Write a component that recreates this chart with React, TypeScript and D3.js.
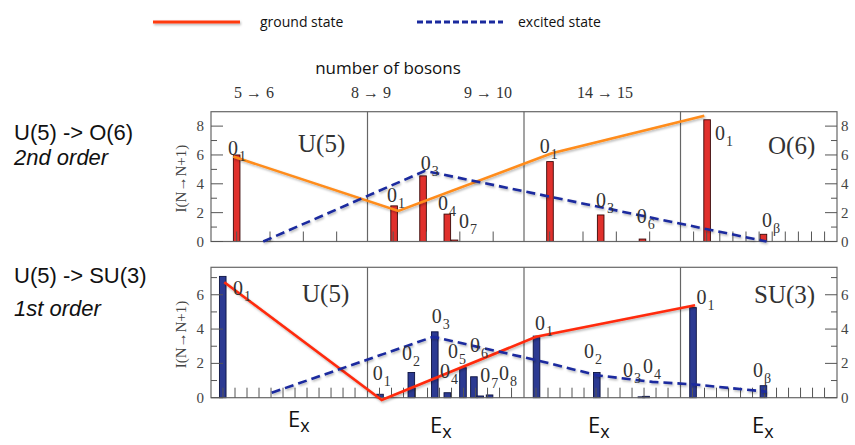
import { useEffect, useRef } from "react";
import * as d3 from "d3";

// x positions are in "panel units": panel i spans [i, i+1]
const topBarX = [0.164, 1.17, 1.355, 1.51, 1.556, 2.166, 2.49, 2.757, 3.17, 3.53];
const topBarY = [6.0, 2.47, 4.55, 1.9, 0.1, 5.54, 1.84, 0.17, 8.44, 0.5];
const topSub = ["1", "1", "3", "4", "7", "1", "3", "6", "1", "β"];
const topLabelX = [0.109, 1.125, 1.34, 1.45, 1.585, 2.1, 2.46, 2.72, 3.22, 3.52];
const topLabelY = [6.0, 2.76, 4.97, 2.19, 0.92, 6.12, 2.42, 1.28, 7.05, 1.03];
const topGroundX = [0.142, 1.197, 2.177, 3.152];
const topGroundY = [5.89, 2.12, 6.12, 8.72];
const topExcitedX = [0.334, 1.367, 3.55];
const topExcitedY = [0.0, 4.9, 0.0];

const botBarX = [0.075, 1.08, 1.28, 1.43, 1.51, 1.61, 1.68, 1.72, 1.78, 2.08, 2.465, 2.75, 2.78, 3.08, 3.53];
const botBarY = [7.07, 0.2, 1.47, 3.84, 0.29, 1.75, 1.22, 0.1, 0.16, 3.59, 1.47, 0.05, 0.08, 5.25, 0.7];
const botSub = ["1", "1", "2", "3", "4", "5", "6", "7", "8", "1", "2", "3", "4", "1", "β"];
const botLabelX = [0.14, 1.033, 1.22, 1.41, 1.463, 1.514, 1.655, 1.72, 1.84, 2.07, 2.383, 2.633, 2.76, 3.103, 3.463];
const botLabelY = [5.97, 1.03, 2.19, 4.36, 1.13, 2.29, 2.66, 0.93, 1.03, 3.94, 2.29, 1.22, 1.42, 5.49, 1.22];
const botGroundX = [0.085, 1.091, 2.077, 3.093];
const botGroundY = [6.73, -0.13, 3.55, 5.39];
const botExcitedX = [0.388, 1.42, 2.08, 2.465, 2.82, 3.08, 3.55];
const botExcitedY = [0.29, 3.55, 2.19, 1.31, 0.92, 0.78, 0.35];

const bosonLabels = ["5 → 6", "8 → 9", "9 → 10", "14 → 15"];
const bosonLabelX = [254, 371, 488, 605];

const SERIF = "'Liberation Serif', 'Times New Roman', serif";
const SANS = "'Liberation Sans', Arial, sans-serif";
const HAND = "'Open Sans', 'Noto Sans', sans-serif";

export default function App() {
  const svgRef = useRef<SVGSVGElement>(null);

  useEffect(() => {
    if (!svgRef.current) return;
    const svg = d3.select(svgRef.current);
    svg.selectAll("*").remove();

    const defs = svg.append("defs");
    defs.append("filter")
      .attr("id", "shadow")
      .attr("filterUnits", "userSpaceOnUse")
      .attr("x", 0).attr("y", 0).attr("width", 855).attr("height", 445)
      .append("feDropShadow")
      .attr("dx", 1).attr("dy", 1.5).attr("stdDeviation", 1)
      .attr("flood-color", "#000").attr("flood-opacity", 0.3);

    const x = d3.scaleLinear().domain([0, 4]).range([211, 837]);

    const panels = [
      {
        y: d3.scaleLinear().domain([0, 9]).range([241.5, 111.7]),
        major: [0, 2, 4, 6, 8], minor: [1, 3, 5, 7],
        barX: topBarX, barY: topBarY, sub: topSub, labX: topLabelX, labY: topLabelY,
        gX: topGroundX, gY: topGroundY, eX: topExcitedX, eY: topExcitedY,
        barFill: "#e0302c", barStroke: "#3a0808", ground: "#ff8c1a",
        tickStart: [0.164, 0.164, 0.164, 0.0837], tickStep: [0.213, 0.213, 0.213, 0.0837], tickN: [4, 4, 4, 11],
        names: [{ t: "U(5)", x: 298, y: 152 }, { t: "O(6)", x: 768, y: 154 }],
      },
      {
        y: d3.scaleLinear().domain([0, 7.6]).range([397.7, 267.3]),
        major: [0, 2, 4, 6], minor: [1, 3, 5, 7],
        barX: botBarX, barY: botBarY, sub: botSub, labX: botLabelX, labY: botLabelY,
        gX: botGroundX, gY: botGroundY, eX: botExcitedX, eY: botExcitedY,
        barFill: "#2c3a92", barStroke: "#0c1240", ground: "#ff2a0a",
        tickStart: [0.0767, 0.0767, 0.0767, 0.0767], tickStep: [0.0767, 0.0767, 0.0767, 0.0767], tickN: [12, 12, 12, 12],
        names: [{ t: "U(5)", x: 302, y: 302 }, { t: "SU(3)", x: 754, y: 303 }],
      },
    ];

    panels.forEach((p) => {
      const y = p.y;
      const y0 = y(0);
      const yTop = y.range()[1];
      const g = svg.append("g");

      // bars
      p.barX.forEach((bx, i) => {
        g.append("rect")
          .attr("x", x(bx) - 3.3)
          .attr("y", y(p.barY[i]))
          .attr("width", 6.6)
          .attr("height", Math.max(0.8, y0 - y(p.barY[i])))
          .style("fill", p.barFill)
          .style("stroke", p.barStroke)
          .style("stroke-width", 0.9);
      });

      // frame and dividers
      g.append("rect")
        .attr("x", x(0)).attr("y", yTop)
        .attr("width", x(4) - x(0)).attr("height", y0 - yTop)
        .style("fill", "none").style("stroke", "#666").style("stroke-width", 1.2);
      [1, 2, 3].forEach((d) => {
        g.append("line")
          .attr("x1", x(d)).attr("x2", x(d)).attr("y1", yTop).attr("y2", y0)
          .style("stroke", "#666").style("stroke-width", 1.2);
      });

      // x minor ticks along the baseline
      [0, 1, 2, 3].forEach((k) => {
        d3.range(p.tickN[k]).forEach((j) => {
          const tx = x(k + p.tickStart[k] + j * p.tickStep[k]);
          g.append("line")
            .attr("x1", tx).attr("x2", tx).attr("y1", y0).attr("y2", y0 - 10)
            .style("stroke", "#555").style("stroke-width", 1);
        });
      });

      // y ticks both sides
      p.major.forEach((v) => {
        g.append("line").attr("x1", x(0)).attr("x2", x(0) + 12).attr("y1", y(v)).attr("y2", y(v))
          .style("stroke", "#555").style("stroke-width", 1);
        g.append("line").attr("x1", x(4) - 12).attr("x2", x(4)).attr("y1", y(v)).attr("y2", y(v))
          .style("stroke", "#555").style("stroke-width", 1);
        g.append("text").attr("x", x(0) - 7).attr("y", y(v) + 5)
          .attr("text-anchor", "end")
          .style("font-family", SERIF).style("font-size", "15px").style("fill", "#444")
          .text(v);
        g.append("text").attr("x", x(4) + 4).attr("y", y(v) + 5)
          .style("font-family", SERIF).style("font-size", "15px").style("fill", "#444")
          .text(v);
      });
      p.minor.forEach((v) => {
        g.append("line").attr("x1", x(0)).attr("x2", x(0) + 6).attr("y1", y(v)).attr("y2", y(v))
          .style("stroke", "#555").style("stroke-width", 1);
        g.append("line").attr("x1", x(4) - 6).attr("x2", x(4)).attr("y1", y(v)).attr("y2", y(v))
          .style("stroke", "#555").style("stroke-width", 1);
      });

      // y axis title
      const cy = (y0 + yTop) / 2 + 2;
      g.append("text")
        .attr("transform", `translate(186,${cy}) rotate(-90)`)
        .attr("text-anchor", "middle")
        .style("font-family", SERIF).style("font-size", "15px").style("fill", "#444")
        .text("I(N→N+1)");

      // lines
      const line = d3.line<[number, number]>().x((d) => x(d[0])).y((d) => y(d[1]));
      g.append("path")
        .attr("d", line(p.gX.map((v, i) => [v, p.gY[i]] as [number, number])))
        .style("fill", "none").style("stroke", p.ground).style("stroke-width", 2.6)
        .attr("filter", "url(#shadow)");
      g.append("path")
        .attr("d", line(p.eX.map((v, i) => [v, p.eY[i]] as [number, number])))
        .style("fill", "none").style("stroke", "#1a2a9e").style("stroke-width", 2.6)
        .style("stroke-dasharray", "9,5")
        .attr("filter", "url(#shadow)");

      // level labels
      p.labX.forEach((lx, i) => {
        const t = g.append("text")
          .attr("x", x(lx)).attr("y", y(p.labY[i]))
          .style("font-family", SERIF).style("fill", "#333");
        t.append("tspan").style("font-size", "20px").text("0");
        t.append("tspan").attr("dx", 1).attr("dy", 6).style("font-size", "14px").text(p.sub[i]);
      });

      // panel names
      p.names.forEach((n) => {
        g.append("text").attr("x", n.x).attr("y", n.y)
          .style("font-family", SERIF).style("font-size", "25px").style("fill", "#333")
          .text(n.t);
      });
    });

    // top annotations
    svg.append("line").attr("x1", 153).attr("x2", 240).attr("y1", 22).attr("y2", 22)
      .style("stroke", "#ff3a10").style("stroke-width", 3).attr("filter", "url(#shadow)");
    svg.append("text").attr("x", 260).attr("y", 27)
      .style("font-family", HAND).style("font-size", "14px").style("fill", "#111")
      .text("ground state");
    svg.append("line").attr("x1", 417).attr("x2", 503).attr("y1", 22).attr("y2", 22)
      .style("stroke", "#1a2a9e").style("stroke-width", 3).style("stroke-dasharray", "6,3");
    svg.append("text").attr("x", 518).attr("y", 27)
      .style("font-family", HAND).style("font-size", "14px").style("fill", "#111")
      .text("excited state");
    svg.append("text").attr("x", 388).attr("y", 74).attr("text-anchor", "middle")
      .style("font-family", HAND).style("font-size", "17px").style("fill", "#111")
      .text("number of bosons");
    bosonLabels.forEach((t, i) => {
      svg.append("text").attr("x", bosonLabelX[i]).attr("y", 98).attr("text-anchor", "middle")
        .style("font-family", SERIF).style("font-size", "16px").style("fill", "#333")
        .text(t);
    });

    // left annotations
    const left = [
      { t: "U(5) -> O(6)", y: 140, it: false },
      { t: "2nd order", y: 165, it: true },
      { t: "U(5) -> SU(3)", y: 283, it: false },
      { t: "1st order", y: 316, it: true },
    ];
    left.forEach((d) => {
      svg.append("text").attr("x", 14).attr("y", d.y)
        .style("font-family", SANS).style("font-size", "22px").style("fill", "#111")
        .style("font-style", d.it ? "italic" : "normal")
        .text(d.t);
    });

    // E_x labels
    [[288, 427], [430, 433], [588, 433], [752, 433]].forEach(([ex, ey]) => {
      const t = svg.append("text").attr("x", ex).attr("y", ey)
        .style("font-family", HAND).style("fill", "#111");
      t.append("tspan").style("font-size", "22px").text("E");
      t.append("tspan").attr("dy", 5).style("font-size", "18px").text("x");
    });
  }, []);

  return (
    <svg
      ref={svgRef}
      width={855}
      height={445}
      style={{ position: "absolute", left: 0, top: 0, background: "#fff" }}
    />
  );
}
